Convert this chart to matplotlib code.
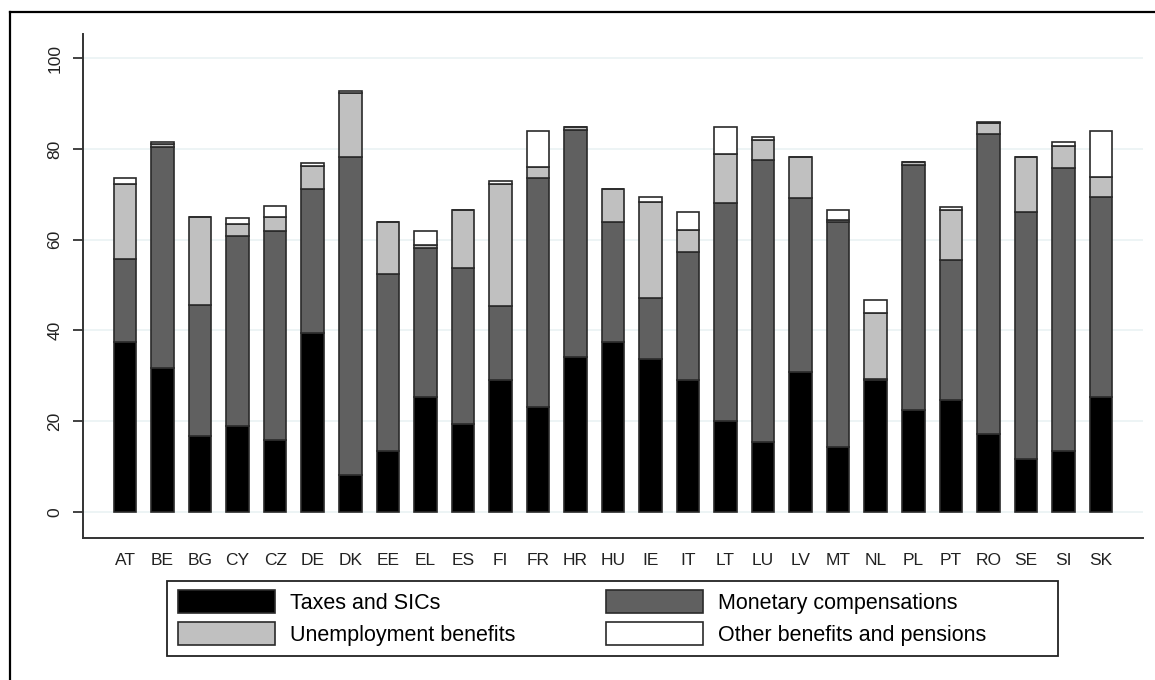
import numpy as np
import matplotlib
matplotlib.use("Agg")
from matplotlib import pyplot as plt
from matplotlib.lines import Line2D
from matplotlib.patches import Rectangle

plt.rcParams['font.family'] = ['Liberation Sans', 'DejaVu Sans']

countries = ['AT', 'BE', 'BG', 'CY', 'CZ', 'DE', 'DK', 'EE', 'EL', 'ES', 'FI',
             'FR', 'HR', 'HU', 'IE', 'IT', 'LT', 'LU', 'LV', 'MT', 'NL', 'PL',
             'PT', 'RO', 'SE', 'SI', 'SK']
taxes = [37.4, 31.8, 16.7, 19.0, 15.8, 39.5, 8.1, 13.4, 25.4, 19.3, 29.0,
         23.2, 34.2, 37.4, 33.6, 29.0, 19.9, 15.4, 30.9, 14.3, 29.0, 22.4,
         24.6, 17.1, 11.6, 13.5, 25.4]
monetary = [18.3, 48.6, 29.0, 41.7, 46.1, 31.6, 70.2, 39.0, 32.7, 34.5, 16.4,
            50.5, 50.0, 26.4, 13.5, 28.3, 48.1, 62.2, 38.2, 49.7, 0.2, 54.1,
            30.9, 66.1, 54.4, 62.2, 44.1]
unemp = [16.6, 0.8, 19.2, 2.8, 3.2, 5.1, 14.1, 11.4, 0.7, 12.7, 26.9,
         2.4, 0.7, 7.4, 21.1, 4.8, 11.0, 4.4, 9.2, 0.3, 14.6, 0.6,
         11.0, 2.5, 12.3, 5.0, 4.4]
other = [1.2, 0.3, 0.0, 1.2, 2.4, 0.6, 0.4, 0.0, 3.2, 0.0, 0.7,
         7.9, 0.0, 0.0, 1.3, 3.9, 5.9, 0.6, 0.0, 2.2, 2.9, 0.0,
         0.6, 0.3, 0.0, 0.9, 10.1]

labels = ['Taxes and SICs', 'Monetary compensations',
          'Unemployment benefits', 'Other benefits and pensions']
colors = ['#000000', '#606060', '#c0c0c0', '#ffffff']

W, H = 1155, 680
fig = plt.figure(figsize=(W / 100, H / 100), dpi=100)
ax = fig.add_axes([0.0719, 0.2088, 0.9177, 0.7408])

x = np.arange(len(countries))
bottom = np.zeros(len(countries))
handles = []
for vals, col, lab in zip([taxes, monetary, unemp, other], colors, labels):
    b = ax.bar(x, vals, width=0.6, bottom=bottom, color=col,
               edgecolor='#2a2a2a', linewidth=1.2, label=lab, zorder=3)
    handles.append(b)
    bottom += np.array(vals)

ax.set_xlim(-1.12, 27.12)
ax.set_ylim(-5.8, 105.3)
ax.set_yticks([0, 20, 40, 60, 80, 100])
ax.set_xticks(x)
ax.set_xticklabels(countries, fontsize=12.5, color='#222222')
for t in ax.get_yticklabels():
    t.set_rotation(90)
    t.set_va('center')
ax.tick_params(axis='y', length=7, width=1.3, color='#333333', pad=8,
               labelsize=12.5, labelcolor='#222222')
ax.tick_params(axis='x', length=0, pad=11)
ax.grid(axis='y', color='#eaf2f3', linewidth=1.2, zorder=0)
ax.set_axisbelow(True)
for s in ['top', 'right']:
    ax.spines[s].set_visible(False)
for s in ['left', 'bottom']:
    ax.spines[s].set_linewidth(1.4)
    ax.spines[s].set_color('#333333')

# legend filled row-wise like the original: order handles column by column
order = [0, 2, 1, 3]
leg = fig.legend(handles=[handles[i] for i in order],
                 labels=[labels[i] for i in order], ncol=2,
                 loc='upper left',
                 bbox_to_anchor=(178 / W, 1 - 590 / H),
                 fontsize=15.5, frameon=False,
                 handlelength=4.5, handleheight=1.25,
                 handletextpad=0.7, labelspacing=0.4, borderpad=0,
                 columnspacing=4.2, borderaxespad=0)
fig.add_artist(Rectangle((167 / W, 1 - 656 / H), 891 / W, 75 / H,
                         transform=fig.transFigure, fill=False,
                         edgecolor='#222222', lw=1.3))

# outer frame of the graph region
fig.add_artist(Line2D([10 / W, 10 / W], [0, 1 - 12 / H],
                      transform=fig.transFigure, color='black', lw=1.6))
fig.add_artist(Line2D([10 / W, 1], [1 - 12 / H, 1 - 12 / H],
                      transform=fig.transFigure, color='black', lw=1.6))

fig.savefig('out.png', dpi=100)
